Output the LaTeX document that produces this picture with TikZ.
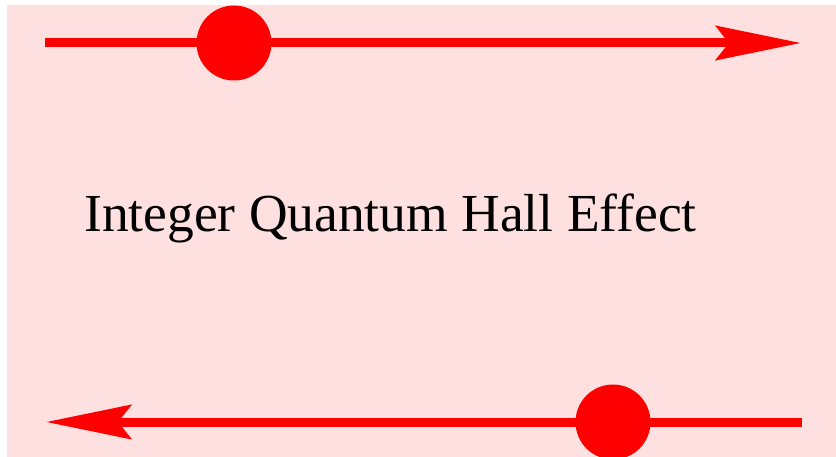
\documentclass[tikz,border=0pt]{standalone}
\usepackage{fontspec}
\setmainfont{Liberation Serif}
\usetikzlibrary{arrows.meta}

\begin{document}
\begin{tikzpicture}[x=1pt, y=-1pt, edge/.style={draw=red, line width=9pt, -{Stealth[length=85pt, width=34pt, inset=13pt]}}, particle/.style={circle, fill=red, minimum size=75pt, inner sep=0pt}]
	\useasboundingbox (0,0) rectangle (836,457);
	\fill[red!12] (7,5) rectangle (836,457);
	\coordinate (tl) at (45,43); \coordinate (tr) at (801,43);
	\coordinate (br) at (802,422); \coordinate (bl) at (46,422);
	\draw[edge] (tl) -- (tr);
	\draw[edge] (br) -- (bl);
	\node[particle] (top) at (234,43) {}; \node[particle] (bottom) at (613,422) {};
	\node[anchor=base west, inner sep=0pt, font=\fontsize{53.5}{60}\selectfont] (label) at (84,232) {Integer Quantum Hall Effect};
\end{tikzpicture}
\end{document}
